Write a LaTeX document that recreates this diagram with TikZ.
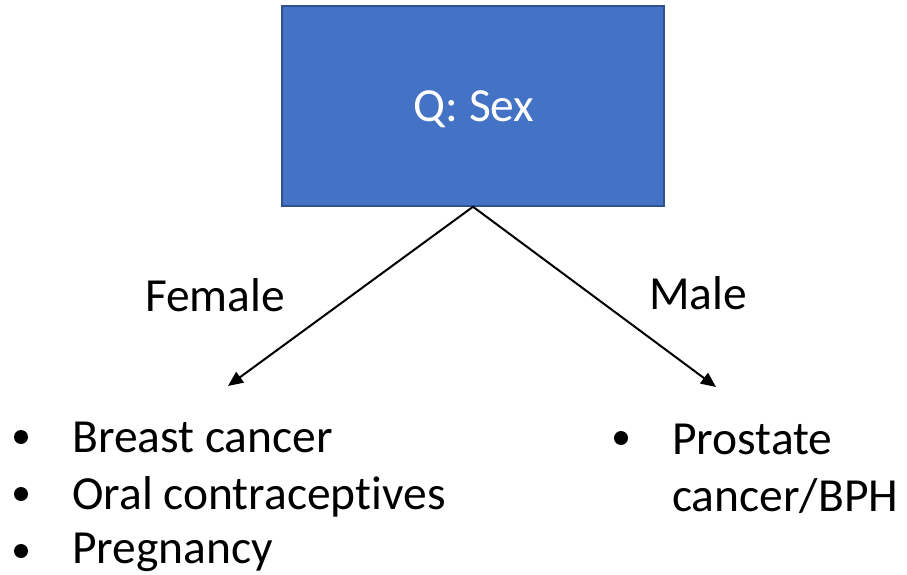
\documentclass[tikz,border=0pt]{standalone}
\usepackage{fontspec}
\setmainfont{Carlito}[Ligatures=NoCommon]
\usetikzlibrary{arrows.meta}
\definecolor{boxfill}{HTML}{4472C4}
\definecolor{boxline}{HTML}{2F528F}
\tikzset{
  qbox/.style={draw=boxline, fill=boxfill, line width=1.5pt, minimum width=382pt, minimum height=200pt, inner sep=0pt},
  qtext/.style={text=white, font=\fontsize{47.5}{57}\selectfont, inner sep=0pt},
  lbl/.style={font=\fontsize{47.5}{57}\selectfont, inner sep=0pt},
  item/.style={font=\fontsize{47.5}{57}\selectfont, inner sep=0pt, anchor=base west},
  bul/.style={fill=black, circle, minimum size=14pt, inner sep=0pt},
  conn/.style={line width=2pt, -{Triangle[length=15pt,width=13pt]}}
}
\begin{document}
\begin{tikzpicture}[x=1pt,y=1pt]
\useasboundingbox (0,0) rectangle (907,574);
\node[qbox] (q) at (473,468) {};
\node[qtext, anchor=base] (qt) at (474,452) {Q: Sex};
\coordinate (fe) at (228,188);
\coordinate (me) at (716,187);
\draw[conn] (q.south) -- (fe);
\draw[conn] (q.south) -- (me);
\node[lbl] (female) at (215,279) {Female};
\node[lbl] (male) at (698,281) {Male};
\node[bul] (b1) at (21,137) {};
\node[bul] (b2) at (21,80) {};
\node[bul] (b3) at (21,23) {};
\node[item] (t1) at (72,122) {Breast cancer};
\node[item] (t2) at (72,65) {Oral contraceptives};
\node[item] (t3) at (72,11) {Pregnancy};
\node[bul] (b4) at (621,136) {};
\node[item] (t4) at (672,120) {Prostate};
\node[item] (t5) at (672,63) {cancer/BPH};
\end{tikzpicture}
\end{document}
